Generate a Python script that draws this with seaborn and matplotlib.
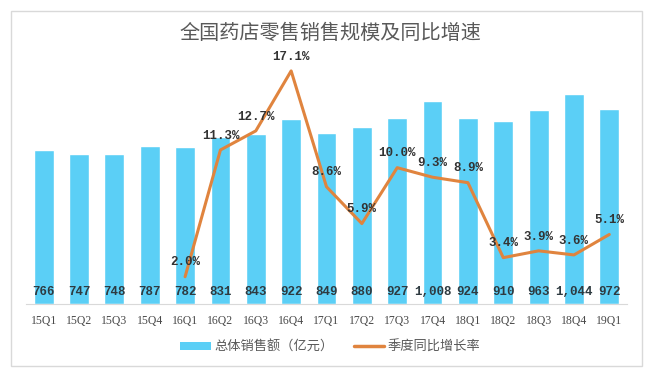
import numpy as np
import pandas as pd
import matplotlib
matplotlib.use("Agg")
import matplotlib.pyplot as plt
import seaborn as sns
from matplotlib.patches import Rectangle, Patch
from matplotlib.lines import Line2D

quarters = ["15Q1", "15Q2", "15Q3", "15Q4", "16Q1", "16Q2", "16Q3", "16Q4", "17Q1",
            "17Q2", "17Q3", "17Q4", "18Q1", "18Q2", "18Q3", "18Q4", "19Q1"]
sales = [766, 747, 748, 787, 782, 831, 843, 922, 849, 880, 927, 1008, 924, 910, 963, 1044, 972]
growth_quarters = quarters[4:]
growth = [2.0, 11.3, 12.7, 17.1, 8.6, 5.9, 10.0, 9.3, 8.9, 3.4, 3.9, 3.6, 5.1]

BAR_COLOR = "#5BCFF6"
LINE_COLOR = "#E0843E"
TEXT_GRAY = "#595959"
LABEL_DARK = "#2E3A40"

sns.set_style("white")
plt.rcParams["font.family"] = ["Noto Sans CJK SC", "DejaVu Sans"]

df = pd.DataFrame({"quarter": quarters, "sales": sales})
df_g = pd.DataFrame({"pos": [quarters.index(q) for q in growth_quarters], "growth": growth})

fig = plt.figure(figsize=(6.61, 3.78), dpi=100)
fig.patches.append(Rectangle((11 / 661, 12 / 378), 631 / 661, 355 / 378, transform=fig.transFigure,
                             fill=False, edgecolor="#D9D9D9", linewidth=1))
ax = fig.add_axes([26 / 661, 74 / 378, 601 / 661, 259 / 378])

sns.barplot(data=df, x="quarter", y="sales", color=BAR_COLOR, width=0.56, saturation=1, ax=ax)
ax.set_xlim(-0.5, 16.5)
ax.set_ylim(0, 1288)
ax.set_xlabel("")
ax.set_ylabel("")
ax.set_yticks([])
for s in ["top", "left", "right"]:
    ax.spines[s].set_visible(False)
ax.spines["bottom"].set_color("#D9D9D9")
ax.tick_params(axis="x", length=0, pad=8, labelsize=8.5, labelcolor="#4A4A4A")
for lab in ax.get_xticklabels():
    lab.set_fontfamily("Liberation Serif")

# sales labels sit near the bottom of each bar
for i, v in enumerate(sales):
    ax.text(i, 62, f"{v:,}", ha="center", va="center", fontsize=9, fontweight="bold",
            color=LABEL_DARK, fontfamily="Liberation Mono")

ax2 = ax.twinx()
sns.lineplot(data=df_g, x="pos", y="growth", color=LINE_COLOR, linewidth=2.2, ax=ax2)
ax2.set_ylim(0, 19)
ax2.set_yticks([])
ax2.set_xlabel("")
ax2.set_ylabel("")
for s in ["top", "left", "right", "bottom"]:
    ax2.spines[s].set_visible(False)

for x, v in zip(df_g["pos"], growth):
    ax2.annotate(f"{v:.1f}%", (x, v), xytext=(0, 6), textcoords="offset points",
                 ha="center", va="bottom", fontsize=9, fontweight="bold",
                 color="#333333", fontfamily="Liberation Mono")

fig.text(0.5, 1 - 33 / 378, "全国药店零售销售规模及同比增速", ha="center", va="center",
         fontsize=14.5, fontweight="light", color=TEXT_GRAY)

handles = [Patch(facecolor=BAR_COLOR, edgecolor="none"),
           Line2D([0], [0], color=LINE_COLOR, linewidth=2.5)]
fig.legend(handles, ["总体销售额（亿元）", "季度同比增长率"], loc="center",
           bbox_to_anchor=(0.5, 1 - 347 / 378), ncol=2, frameon=False, fontsize=9.5,
           labelcolor=TEXT_GRAY, handlelength=2.3, handleheight=0.5, columnspacing=1.5,
           handletextpad=0.3)

fig.savefig("out.png", dpi=100)
